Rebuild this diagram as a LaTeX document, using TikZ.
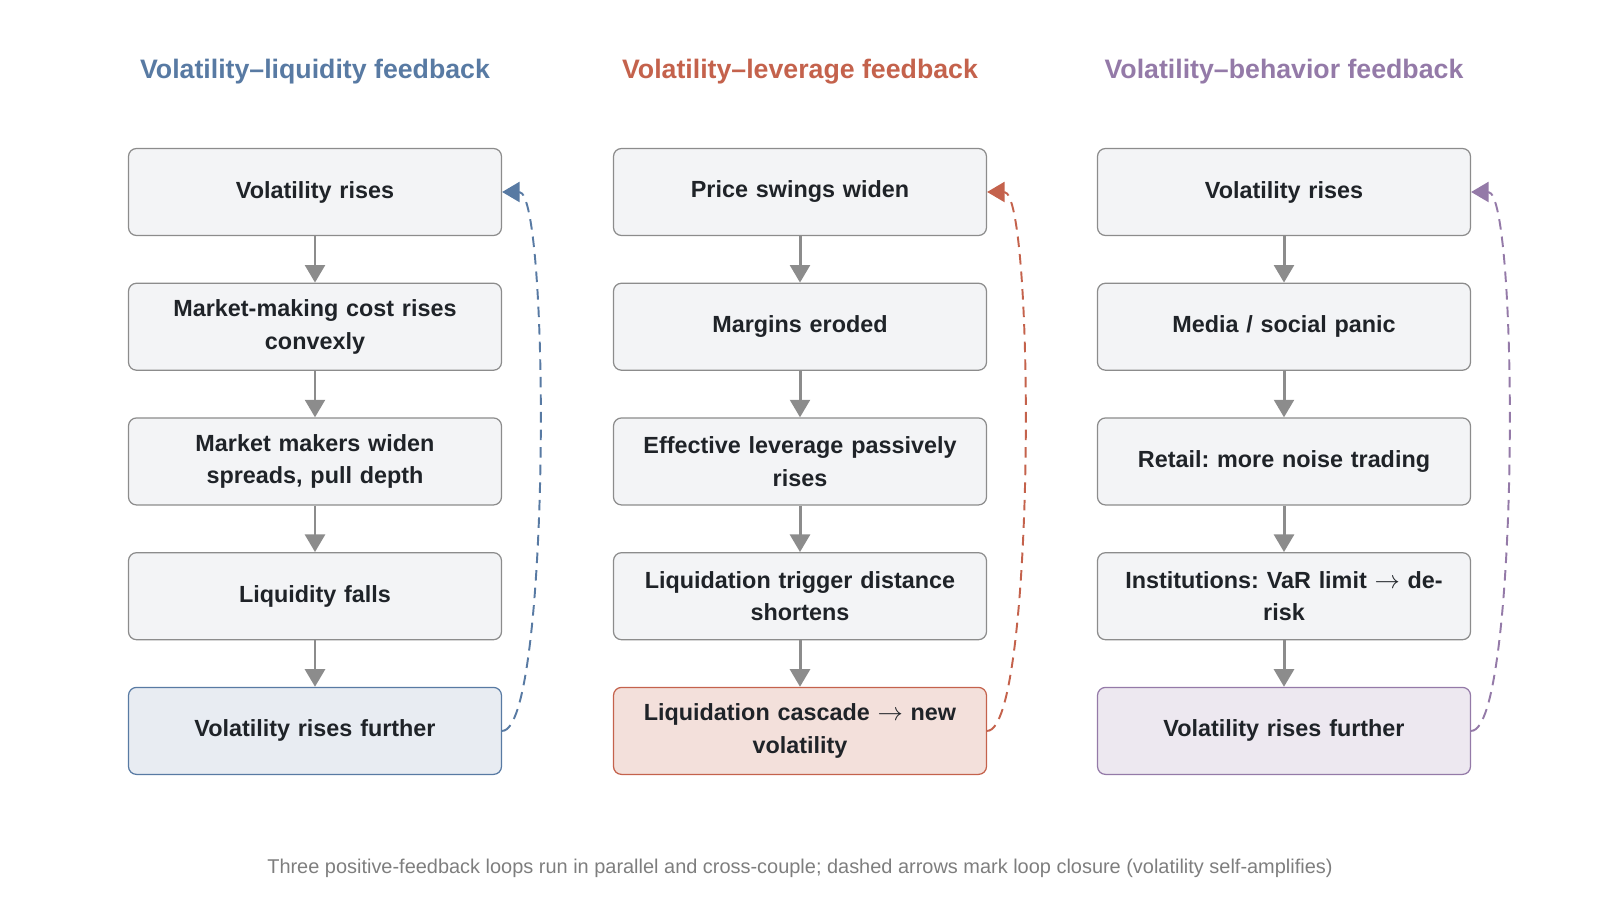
\documentclass[tikz,border=0pt]{standalone}
\usepackage{fontspec}
\setmainfont{Liberation Sans}
\usepackage{tikz}
\usetikzlibrary{positioning,arrows.meta}

\definecolor{liqblue}{HTML}{587AA3}
\definecolor{levred}{HTML}{C4624C}
\definecolor{behpurple}{HTML}{947AA8}
\definecolor{boxgray}{HTML}{F3F4F6}
\definecolor{edgegray}{HTML}{8C8C8C}
\definecolor{inkdark}{HTML}{1F2328}
\newcommand{\ra}{$\rightarrow$}
\frenchspacing

\begin{document}
\begin{tikzpicture}[
box/.style={draw=edgegray,fill=boxgray,rounded corners=0.16cm,line width=0.7pt,
    minimum width=7.46cm,minimum height=1.74cm,text width=6.9cm,inner xsep=0.28cm,
    align=center,text=inkdark,font=\fontsize{13.3}{18.5}\selectfont\bfseries},
title/.style={font=\fontsize{15.2}{18}\selectfont\bfseries},
flow/.style={draw=edgegray,line width=1.7pt,-{Triangle[length=10pt,width=11.3pt]}},
loop/.style={dashed,dash pattern=on 6pt off 4pt,line width=1.1pt,
    -{Triangle[length=10pt,width=11.5pt]}},
node distance=0.93cm]
\useasboundingbox (0,0) rectangle (32,18.18);

% liquidity column
\node (liqtitle) [title,text=liqblue] at (6.3,16.74) {Volatility–liquidity feedback};
\node (liqa) [box] at (6.3,14.34) {Volatility rises};
\node (liqb) [box,below=of liqa] {Market-making cost rises\\convexly};
\node (liqc) [box,below=of liqb] {Market makers widen\\spreads, pull depth};
\node (liqd) [box,below=of liqc] {Liquidity falls};
\node (liqe) [box,below=of liqd,draw=liqblue,fill=liqblue!14] {Volatility rises further};

% leverage column
\node (levtitle) [title,text=levred] at (16.0,16.74) {Volatility–leverage feedback};
\node (leva) [box] at (16.0,14.34) {Price swings widen};
\node (levb) [box,below=of leva] {Margins eroded};
\node (levc) [box,below=of levb] {Effective leverage passively\\rises};
\node (levd) [box,below=of levc] {Liquidation trigger distance\\shortens};
\node (leve) [box,below=of levd,draw=levred,fill=levred!20] {Liquidation cascade \ra{} new\\volatility};

% behavior column
\node (behtitle) [title,text=behpurple] at (25.68,16.74) {Volatility–behavior feedback};
\node (beha) [box] at (25.68,14.34) {Volatility rises};
\node (behb) [box,below=of beha] {Media / social panic};
\node (behc) [box,below=of behb] {Retail: more noise trading};
\node (behd) [box,below=of behc] {Institutions: VaR limit \ra{} de-\\risk};
\node (behe) [box,below=of behd,draw=behpurple,fill=behpurple!17] {Volatility rises further};

\foreach \col in {liq,lev,beh} {
  \draw[flow] (\col a) -- (\col b);
  \draw[flow] (\col b) -- (\col c);
  \draw[flow] (\col c) -- (\col d);
  \draw[flow] (\col d) -- (\col e);
}

% loop closures
\draw[loop,liqblue] (liqe.east) to[out=0,in=0,looseness=0.23] (liqa.east);
\draw[loop,levred] (leve.east) to[out=0,in=0,looseness=0.23] (leva.east);
\draw[loop,behpurple] (behe.east) to[out=0,in=0,looseness=0.23] (beha.east);

\node (note) [text=edgegray!90!black,font=\fontsize{11.35}{13}\selectfont] at (16.0,0.82)
  {Three positive-feedback loops run in parallel and cross-couple; dashed arrows mark loop closure (volatility self-amplifies)};
\end{tikzpicture}
\end{document}
